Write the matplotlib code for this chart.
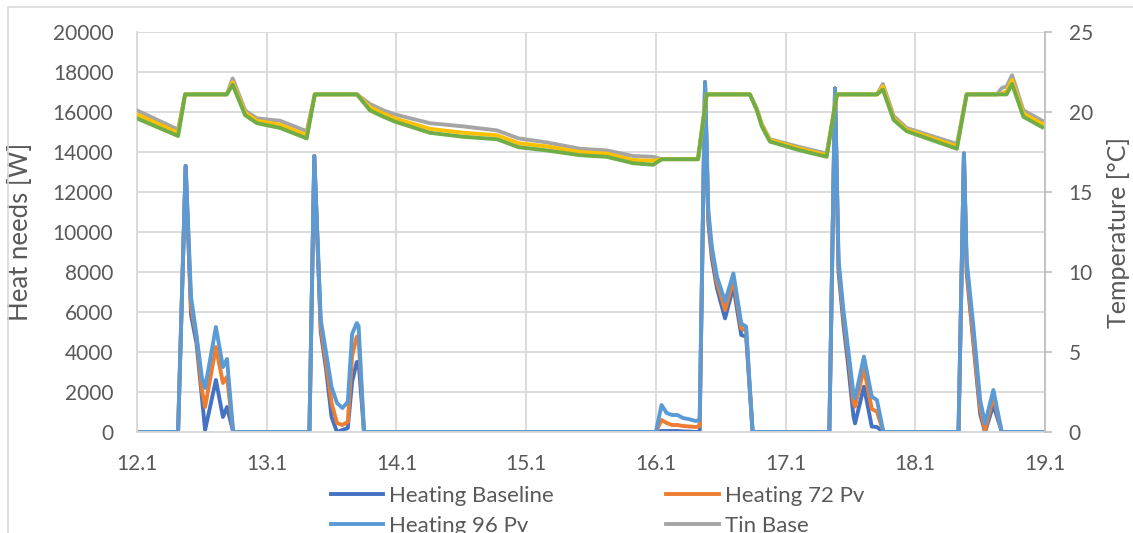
#!/usr/bin/env python3
import matplotlib
matplotlib.use("Agg")
import matplotlib.pyplot as plt
from matplotlib.patches import Rectangle

# x values are hours from the start of 12.1
day_labels = ["12.1", "13.1", "14.1", "15.1", "16.1", "17.1", "18.1", "19.1"]

# heating needs [W], one shared time axis for the three heating series
heat_hours = [0, 7.6, 9.0, 10.0, 11.0, 12.0, 12.6, 14.6, 15.9, 16.65, 17.8,
              31.9, 32.8, 34.0, 35.0, 36.0, 37.0, 38.0, 39.0, 39.8, 40.66, 41.0, 42.0,
              96.0, 97.05, 98.0, 99.0, 100.0, 101.0, 102.0, 103.4, 104.1, 105.1,
              105.7, 106.35, 107.3, 108.8, 110.35, 111.8, 112.7, 113.9,
              128.1, 129.15, 129.8, 130.7, 131.6, 132.55, 132.85, 134.5, 135.95, 136.9, 138.1,
              152.0, 153.0, 153.5, 154.75, 156.0, 156.9, 158.45, 160.0, 167.6]
heat_base = [0, 0, 13300, 5850, 4450, 1750, 100, 2600, 750, 1250, 0,
             0, 13800, 5000, 3100, 750, 0, 100, 200, 2500, 3500, 3500, 0,
             0, 50, 50, 50, 50, 30, 20, 0, 0, 17500,
             10500, 8700, 7200, 5680, 7270, 4850, 4770, 0,
             0, 17180, 8000, 5400, 3300, 800, 430, 2270, 270, 250, 0,
             0, 13930, 8000, 4430, 900, 0, 1350, 0, 0]
heat_72pv = [0, 0, 13300, 6250, 4750, 2100, 1250, 4250, 2450, 2750, 0,
             0, 13800, 5250, 3450, 1450, 450, 350, 500, 3800, 4770, 4700, 0,
             0, 600, 450, 350, 350, 300, 280, 250, 300, 17500,
             10800, 9000, 7500, 6100, 7600, 5180, 5070, 0,
             0, 17180, 8300, 5800, 3800, 1500, 1270, 3180, 1150, 1020, 0,
             0, 13930, 8300, 4600, 1200, 100, 1770, 0, 0]
heat_96pv = [0, 0, 13300, 6750, 4850, 2750, 2200, 5250, 3250, 3650, 0,
             0, 13800, 5600, 3950, 2250, 1450, 1200, 1500, 4900, 5450, 5300, 0,
             0, 1350, 950, 850, 850, 700, 650, 550, 600, 17500,
             11100, 9270, 7770, 6520, 7930, 5430, 5270, 0,
             0, 17180, 8600, 6100, 4100, 1930, 1680, 3770, 1770, 1600, 0,
             0, 13930, 8600, 5270, 1600, 430, 2100, 0, 0]

# indoor temperature [°C]
temp_hours = [0, 7.6, 8.9, 16.6, 17.7, 20.0, 22.2, 26.5, 31.4, 32.9, 40.7, 43.1, 45.6,
              47.7, 54.2, 60.4, 66.6, 70.6, 75.8, 82.0, 86.9, 91.8, 95.5, 97.1, 103.8,
              105.4, 113.4, 114.7, 115.6, 117.1, 122.7, 127.6, 129.5, 136.9, 138.0,
              140.0, 142.4, 151.7, 153.5, 159.1, 160.0, 160.9, 161.9, 164.0, 167.5]
tin_base = [20.1, 18.9, 21.1, 21.1, 22.1, 20.1, 19.6, 19.45, 18.8, 21.1, 21.1, 20.5, 20.1,
            19.85, 19.3, 19.1, 18.85, 18.35, 18.1, 17.7, 17.6, 17.25, 17.2, 17.05, 17.05,
            21.1, 21.1, 20.2, 19.25, 18.3, 17.8, 17.4, 21.1, 21.1, 21.75,
            19.75, 19.0, 18.0, 21.1, 21.1, 21.5, 21.6, 22.3, 20.1, 19.45]
tin_72pv = [19.85, 18.7, 21.1, 21.1, 21.85, 19.95, 19.45, 19.2, 18.55, 21.1, 21.1, 20.3, 19.9,
            19.6, 18.95, 18.7, 18.55, 18.05, 17.85, 17.5, 17.4, 17.0, 16.95, 17.05, 17.05,
            21.1, 21.1, 20.15, 19.2, 18.25, 17.7, 17.3, 21.1, 21.1, 21.6,
            19.6, 18.9, 17.85, 21.1, 21.1, 21.15, 21.3, 22.0, 19.9, 19.25]
tin_96pv = [19.6, 18.5, 21.1, 21.1, 21.7, 19.8, 19.3, 19.0, 18.35, 21.1, 21.1, 20.1, 19.7,
            19.4, 18.7, 18.45, 18.3, 17.8, 17.6, 17.3, 17.2, 16.8, 16.7, 17.05, 17.05,
            21.1, 21.1, 20.1, 19.1, 18.15, 17.6, 17.2, 21.1, 21.1, 21.4,
            19.5, 18.8, 17.7, 21.1, 21.1, 21.1, 21.1, 21.75, 19.7, 19.05]

plt.rcParams['font.family'] = ['Lato', 'DejaVu Sans']
txt_color = '#595959'
grid_color = '#D9D9D9'
lw = 2.8

fig = plt.figure(figsize=(11.33, 5.33), dpi=100)
ax = fig.add_axes([137/1133, 1 - 432/533, 908/1133, 400/533])
ax2 = ax.twinx()

# outer chart border (cropped at right and bottom in the original)
fig.patches.append(Rectangle((7.5/1133, -0.1), 1.2, 1 - 7.5/533 + 0.1,
                             transform=fig.transFigure, fill=False,
                             edgecolor='#D9D9D9', linewidth=1.2))

l1, = ax.plot(heat_hours, heat_base, color='#4472C4', lw=lw, label='Heating Baseline')
l2, = ax.plot(heat_hours, heat_72pv, color='#ED7D31', lw=lw, label='Heating 72 Pv')
l3, = ax.plot(heat_hours, heat_96pv, color='#5B9BD5', lw=lw, label='Heating 96 Pv')
l4, = ax2.plot(temp_hours, tin_base, color='#A5A5A5', lw=lw, label='Tin Base')
l5, = ax2.plot(temp_hours, tin_72pv, color='#FFC000', lw=lw, label='Tin 72 Pv')
l6, = ax2.plot(temp_hours, tin_96pv, color='#70AD47', lw=lw, label='Tin 96 Pv')

ax.set_xlim(0, 168)
ax.set_xticks(range(0, 169, 24))
ax.set_xticklabels(day_labels)
ax.set_ylim(0, 20000)
ax.set_yticks(range(0, 20001, 2000))
ax2.set_ylim(0, 25)
ax2.set_yticks(range(0, 26, 5))

ax.grid(True, color=grid_color, lw=1.3)
ax.set_axisbelow(True)
ax.spines['top'].set_visible(False)
ax2.spines['top'].set_visible(False)
ax.spines['left'].set_color(grid_color)
ax.spines['bottom'].set_color(grid_color)
ax.spines['left'].set_linewidth(1.3)
ax.spines['bottom'].set_linewidth(1.3)
ax2.spines['left'].set_visible(False)
ax2.spines['bottom'].set_visible(False)
ax2.spines['right'].set_color('#BFBFBF')
ax2.spines['right'].set_linewidth(1.3)
ax.spines['right'].set_visible(False)

ax.tick_params(axis='y', length=0, pad=17, labelsize=15, labelcolor=txt_color)
ax.tick_params(axis='x', length=0, pad=16, labelsize=15, labelcolor=txt_color)
ax2.tick_params(axis='y', length=5, width=1.2, color='#BFBFBF', pad=12,
                labelsize=15, labelcolor=txt_color)

ax.set_ylabel('Heat needs [W]', fontsize=18.5, color=txt_color)
ax.yaxis.set_label_coords(-0.115, 0.5)
ax2.set_ylabel('Temperature [°C]', fontsize=18, color=txt_color, rotation=90)
ax2.yaxis.set_label_coords(1.068, 0.5)

# legend fills column by column, so order the handles to read row by row
handles = [l1, l3, l5, l2, l4, l6]
fig.legend(handles, [h.get_label() for h in handles], ncol=2, frameon=False,
           loc='upper left', bbox_to_anchor=(320/1133, 1 - 475/533), borderpad=0,
           fontsize=16, labelcolor=txt_color, handlelength=2.35,
           handletextpad=0.27, columnspacing=5.05, labelspacing=0.43)

fig.savefig('out.png', dpi=100)
